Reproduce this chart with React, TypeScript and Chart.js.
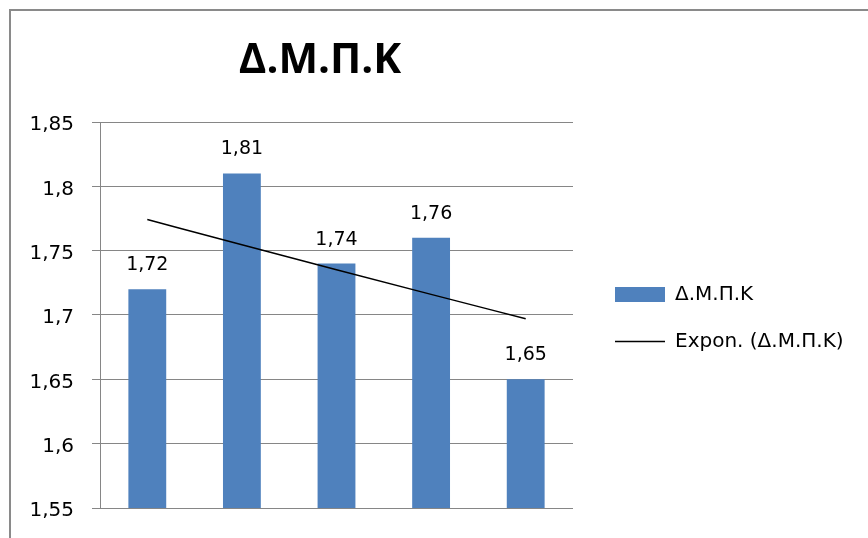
import React, { useEffect, useRef } from 'react';
import { Chart, registerables } from 'chart.js';

Chart.register(...registerables);

const chartTitle = 'Δ.Μ.Π.Κ';
const categories = ['1', '2', '3', '4', '5'];
const barValues = [1.72, 1.81, 1.74, 1.76, 1.65];
const barLabel = 'Δ.Μ.Π.Κ';
const trendLabel = 'Expon. (Δ.Μ.Π.Κ)';
const yMin = 1.55;
const yMax = 1.85;
const yStep = 0.05;

// Exponential least-squares trendline (as Excel's "Expon." trendline) derived from the bar values
function expTrend(values: number[]): number[] {
  const n = values.length;
  const xs = values.map((_, i) => i + 1);
  const ls = values.map((v) => Math.log(v));
  const mx = xs.reduce((a, b) => a + b, 0) / n;
  const ml = ls.reduce((a, b) => a + b, 0) / n;
  let sxy = 0;
  let sxx = 0;
  xs.forEach((x, i) => {
    sxy += (x - mx) * (ls[i] - ml);
    sxx += (x - mx) * (x - mx);
  });
  const b = sxy / sxx;
  const a = ml - b * mx;
  return xs.map((x) => Math.exp(a + b * x));
}
const trendValues = expTrend(barValues);

const FONT = "'DejaVu Sans', sans-serif";
const TITLE_FONT = "'Open Sans', 'Noto Sans', sans-serif";
const LEGEND_SIZE = 20;
const LEGEND_PAD = 27;
const LEGEND_BOX_W = 50;
const fmt = (v: number) => String(Number(v.toFixed(2))).replace('.', ',');

const titlePlugin = {
  id: 'customTitle',
  afterDraw(chart: any) {
    const ctx = chart.ctx;
    ctx.save();
    ctx.font = `bold 42px ${TITLE_FONT}`;
    ctx.fillStyle = '#000';
    ctx.textAlign = 'center';
    ctx.textBaseline = 'alphabetic';
    ctx.fillText(chartTitle, 320, 73);
    ctx.restore();
  },
};

const dataLabelPlugin = {
  id: 'barValueLabels',
  afterDatasetsDraw(chart: any) {
    const ctx = chart.ctx;
    const meta = chart.getDatasetMeta(0);
    ctx.save();
    ctx.font = `19px ${FONT}`;
    ctx.fillStyle = '#000';
    ctx.textAlign = 'center';
    ctx.textBaseline = 'alphabetic';
    meta.data.forEach((el: any, i: number) => {
      ctx.fillText(fmt(barValues[i]), el.x, el.y - 19);
    });
    ctx.restore();
  },
};

export default function App() {
  const ref = useRef<HTMLCanvasElement>(null);
  useEffect(() => {
    if (!ref.current) return;
    // measure legend text so the legend lands at the reference position
    const mctx = ref.current.getContext('2d') as CanvasRenderingContext2D;
    mctx.font = `${LEGEND_SIZE}px ${FONT}`;
    const textW = Math.max(mctx.measureText(trendLabel).width, mctx.measureText(barLabel).width);
    const legendW = LEGEND_PAD + LEGEND_BOX_W + LEGEND_SIZE / 2 + textW + 10;
    const padRight = Math.max(0, 868 - 588 - legendW);

    const chart = new Chart(ref.current, {
      type: 'bar',
      data: {
        labels: categories,
        datasets: [
          {
            type: 'bar',
            label: barLabel,
            data: barValues,
            backgroundColor: '#4F81BD',
            borderWidth: 0,
            barPercentage: 0.4,
            categoryPercentage: 1.0,
            order: 1,
          } as any,
          {
            type: 'line',
            label: trendLabel,
            data: trendValues,
            borderColor: '#000',
            backgroundColor: '#000',
            borderWidth: 1.5,
            pointRadius: 0,
            fill: false,
            cubicInterpolationMode: 'monotone',
            order: 0,
          } as any,
        ],
      },
      options: {
        responsive: false,
        animation: false,
        devicePixelRatio: 1,
        layout: { padding: { left: 20, top: 122, bottom: 24, right: padRight } },
        scales: {
          x: {
            display: false,
            offset: true,
          },
          y: {
            min: yMin,
            max: yMax,
            grid: { color: '#868686', lineWidth: 1, tickLength: 8, drawTicks: true },
            border: { display: true, color: '#868686', width: 1 },
            ticks: {
              stepSize: yStep,
              padding: 18,
              labelOffset: 3,
              color: '#000',
              font: { family: FONT, size: 20 },
              callback: (v: any) => fmt(Number(v)),
            },
            afterFit: (s: any) => {
              s.width = 80;
            },
          },
          gap: {
            type: 'linear',
            position: 'right',
            display: true,
            min: 0,
            max: 1,
            grid: { display: false, drawTicks: false },
            border: { display: false },
            ticks: { display: false },
            afterFit: (s: any) => {
              s.width = 15;
            },
          },
        } as any,
        plugins: {
          title: { display: false },
          tooltip: { enabled: false },
          legend: {
            display: true,
            position: 'right',
            maxWidth: 400,
            labels: {
              usePointStyle: true,
              pointStyleWidth: LEGEND_BOX_W,
              boxHeight: 15,
              padding: LEGEND_PAD,
              color: '#000',
              font: { family: FONT, size: LEGEND_SIZE },
              sort: (a: any, b: any) => a.datasetIndex - b.datasetIndex,
              generateLabels: (c: any) => {
                const items = (Chart.defaults.plugins.legend.labels as any).generateLabels(c);
                items.forEach((it: any) => {
                  it.pointStyle = it.datasetIndex === 0 ? 'rect' : 'line';
                });
                return items;
              },
            },
          } as any,
        },
      },
      plugins: [titlePlugin, dataLabelPlugin],
    });
    return () => chart.destroy();
  }, []);

  return (
    <div
      style={{
        position: 'fixed',
        left: 0,
        top: 0,
        width: 868,
        height: 538,
        overflow: 'hidden',
        background: '#fff',
      }}
    >
      <div
        style={{
          position: 'absolute',
          left: 9,
          top: 9,
          width: 900,
          height: 600,
          border: '2px solid #8a8a8a',
          boxSizing: 'border-box',
        }}
      />
      <canvas
        ref={ref}
        width={868}
        height={538}
        style={{ position: 'absolute', left: 0, top: 0, width: 868, height: 538 }}
      />
    </div>
  );
}
